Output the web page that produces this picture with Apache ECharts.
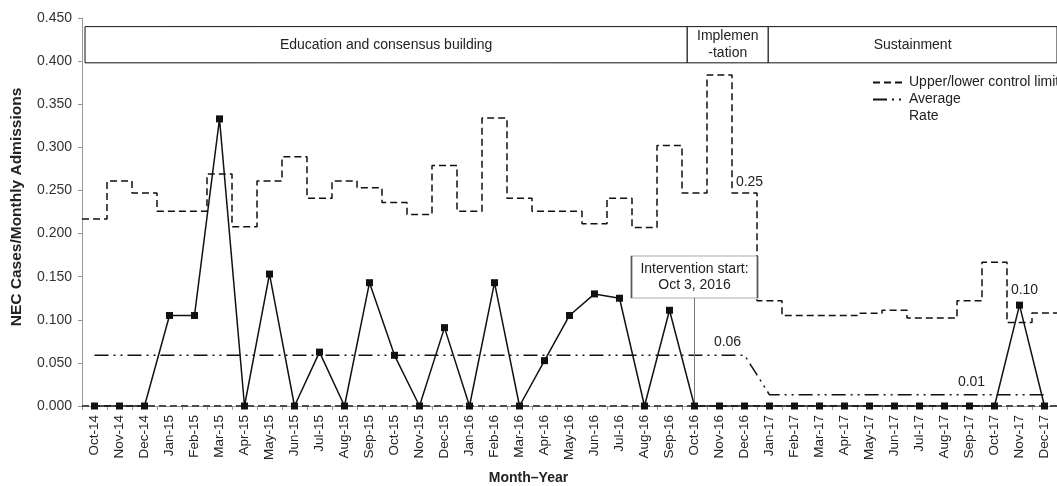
<!DOCTYPE html>
<html>
<head>
<meta charset="utf-8">
<script src="https://cdn.jsdelivr.net/npm/echarts@6/dist/echarts.min.js"></script>
<style>html,body{margin:0;padding:0;background:#fff}#c{width:1057px;height:486px}</style>
</head>
<body>
<div id="c"></div>
<script>
const months = ['Oct-14','Nov-14','Dec-14','Jan-15','Feb-15','Mar-15','Apr-15','May-15','Jun-15','Jul-15','Aug-15','Sep-15','Oct-15','Nov-15','Dec-15','Jan-16','Feb-16','Mar-16','Apr-16','May-16','Jun-16','Jul-16','Aug-16','Sep-16','Oct-16','Nov-16','Dec-16','Jan-17','Feb-17','Mar-17','Apr-17','May-17','Jun-17','Jul-17','Aug-17','Sep-17','Oct-17','Nov-17','Dec-17'];
const rate = [0,0,0,0.105,0.105,0.333,0,0.153,0,0.0625,0,0.143,0.0588,0,0.0909,0,0.143,0,0.0526,0.105,0.130,0.125,0,0.111,0,0,0,0,0,0,0,0,0,0,0,0,0,0.117,0];
const ucl = [0.217,0.261,0.247,0.226,0.226,0.269,0.208,0.261,0.289,0.241,0.261,0.253,0.236,0.222,0.279,0.226,0.334,0.241,0.226,0.226,0.2115,0.241,0.207,0.302,0.247,0.384,0.247,0.122,0.105,0.105,0.105,0.1075,0.111,0.102,0.102,0.122,0.1667,0.0967,0.108];
const lcl = months.map(() => 0);
const avg = [0.059,0.059,0.059,0.059,0.059,0.059,0.059,0.059,0.059,0.059,0.059,0.059,0.059,0.059,0.059,0.059,0.059,0.059,0.059,0.059,0.059,0.059,0.059,0.059,0.059,0.059,0.059,0.013,0.013,0.013,0.013,0.013,0.013,0.013,0.013,0.013,0.013,0.013,0.013];
const phases = [
  {name: 'Education and consensus building', from: -0.38, to: 23.71},
  {name: 'Implemen\n-tation', from: 23.71, to: 26.95},
  {name: 'Sustainment', from: 26.95, to: 38.9}
];
const phaseBand = [0.398, 0.44];
const yTicks = {min: 0, max: 0.45, interval: 0.05};

const FONT = 'Liberation Sans, Arial, sans-serif';
const TXT = '#222';
const UCL_NAME = 'Upper/lower control limit';
const AVG_NAME = 'Average Rate';

// step series on a value axis: each month's limit spans its own band
function stepData(arr) {
  const d = arr.map((v, i) => [i - 0.5, v]);
  d.push([arr.length - 0.5, arr[arr.length - 1]]);
  return d;
}

const chart = echarts.init(document.getElementById('c'), null, {renderer: 'canvas'});
const option = {
  animation: false,
  textStyle: {fontFamily: FONT},
  title: {
    text: 'Month–Year', left: 'center', top: 471, padding: 0,
    textStyle: {fontFamily: FONT, fontSize: 14, fontWeight: 'bold', color: TXT}
  },
  legend: {
    orient: 'vertical', left: 872, top: 74, padding: 0, itemWidth: 31, itemHeight: 12, itemGap: -17,
    itemStyle: {opacity: 0},
    textStyle: {fontFamily: FONT, fontSize: 14, color: TXT, lineHeight: 17},
    formatter: n => n === AVG_NAME ? ' \nAverage\nRate' : n,
    data: [UCL_NAME, AVG_NAME]
  },
  grid: {left: 82, top: 18, width: 976, height: 388},
  xAxis: [{
    type: 'category', data: months, boundaryGap: true,
    axisLine: {show: true, lineStyle: {color: '#999', width: 1}},
    axisTick: {show: true, length: 4, lineStyle: {color: '#999'}},
    axisLabel: {rotate: 90, fontSize: 13.5, color: TXT, margin: 9, fontFamily: FONT, interval: 0}
  }, {
    type: 'value', min: -0.5, max: 38.5, show: false
  }],
  yAxis: {
    type: 'value', min: yTicks.min, max: yTicks.max, interval: yTicks.interval,
    name: 'NEC Cases/Monthly Admissions', nameLocation: 'middle', nameGap: 57,
    nameTextStyle: {fontFamily: FONT, fontSize: 15.5, fontWeight: 'bold', color: TXT, padding: [0, 0, 0, 10]},
    axisLine: {show: true, onZero: false, lineStyle: {color: '#999', width: 1}},
    axisTick: {show: true, length: 4, lineStyle: {color: '#999'}},
    splitLine: {show: false},
    axisLabel: {fontSize: 14, color: '#333', margin: 10, fontFamily: FONT,
      formatter: v => v.toFixed(3)}
  },
  series: [
    {
      name: 'phases', type: 'line', xAxisIndex: 1, data: [], silent: true,
      markArea: {
        silent: true,
        itemStyle: {color: '#fff', borderColor: '#111', borderWidth: 1},
        label: {show: true, position: 'inside', color: TXT, fontSize: 14, fontFamily: FONT, lineHeight: 17},
        data: phases.map(p => [
          {name: p.name, xAxis: p.from, yAxis: phaseBand[0]},
          {xAxis: p.to, yAxis: phaseBand[1]}
        ])
      }
    },
    {
      name: UCL_NAME, type: 'line', xAxisIndex: 1, step: 'end',
      data: stepData(ucl), symbol: 'none',
      lineStyle: {color: '#111', width: 1.5, type: [7, 4]},
      itemStyle: {color: '#111'},
      markPoint: {
        symbol: 'circle', symbolSize: 0,
        label: {show: true, color: TXT, fontSize: 14, fontFamily: FONT},
        data: [{coord: [26, ucl[26]], label: {formatter: '0.25', offset: [5, -11]}}]
      }
    },
    {
      name: UCL_NAME, type: 'line', xAxisIndex: 1, step: 'end',
      data: stepData(lcl), symbol: 'none',
      lineStyle: {color: '#111', width: 1.5, type: [7, 4]}
    },
    {
      name: AVG_NAME, type: 'line', data: avg, symbol: 'none',
      lineStyle: {color: '#111', width: 1.5, type: [14, 5, 2, 5, 2, 5]},
      itemStyle: {color: '#111'},
      markPoint: {
        symbol: 'circle', symbolSize: 0,
        label: {show: true, color: TXT, fontSize: 14, fontFamily: FONT},
        data: [
          {coord: ['Nov-16', avg[25]], label: {formatter: '0.06', offset: [8, -13]}},
          {coord: ['Sep-17', avg[35]], label: {formatter: '0.01', offset: [2, -13]}}
        ]
      }
    },
    {
      name: 'Rate', type: 'line', data: rate, symbol: 'rect', symbolSize: 7,
      lineStyle: {color: '#111', width: 1.5}, itemStyle: {color: '#111'}, z: 5,
      markLine: {
        silent: true, symbol: 'none',
        lineStyle: {color: '#777', width: 1, type: 'solid'},
        label: {show: false},
        data: [[{coord: ['Oct-16', 0.1253]}, {coord: ['Oct-16', 0]}]]
      },
      markPoint: {
        data: [
          {coord: ['Oct-16', 0.1497], symbol: 'rect', symbolSize: [126, 42],
           itemStyle: {color: '#fff', borderColor: '#555', borderWidth: 1},
           label: {show: true, position: 'inside', formatter: 'Intervention start:\nOct 3, 2016',
             color: TXT, fontSize: 14, lineHeight: 16, fontFamily: FONT}},
          {coord: ['Nov-17', rate[37]], symbol: 'circle', symbolSize: 0,
           label: {show: true, formatter: '0.10', offset: [5, -15], color: TXT, fontSize: 14, fontFamily: FONT}}
        ]
      }
    }
  ]
};
chart.setOption(option);
</script>
</body>
</html>
